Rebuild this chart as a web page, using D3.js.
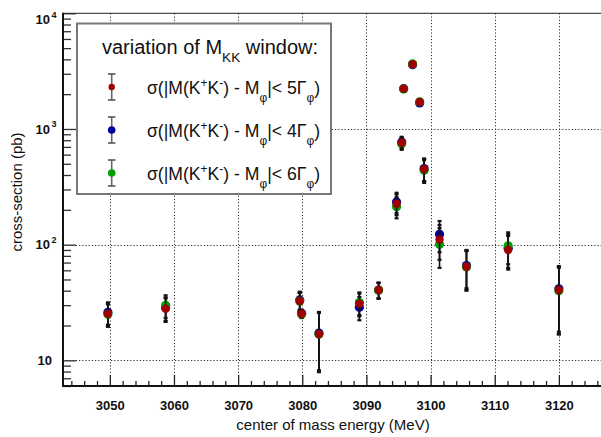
<!DOCTYPE html>
<html><head><meta charset="utf-8">
<script src="https://cdn.jsdelivr.net/npm/d3@7"></script>
<style>
html,body{margin:0;padding:0;background:#fff;}
svg{display:block;font-family:"Liberation Sans",Arial,Helvetica,sans-serif;}
</style></head><body>
<svg id="chart" width="601" height="437"></svg>
<script>
// Scan points (MeV) and cross-sections (pb) for three M(KK) window cuts
const energy = [3049.7, 3058.7, 3079.6, 3079.9, 3082.6, 3088.9, 3091.9, 3094.7, 3095.5, 3095.8, 3097.2, 3098.3, 3099.0, 3101.4, 3105.6, 3112.1, 3120.0];
const sigma5 = [25.3, 27.9, 32.6, 25.3, 16.9, 30.9, 40.5, 226, 761, 2229, 3623, 1711, 451, 111, 64.5, 89.9, 40.5];
const err5   = [5.6, 6.4, 5.8, 1.8, 8.9, 6.9, 6.3, 46, 85, 90, 130, 80, 100, 37, 24, 29, 23.5];
const sigma4 = [26.0, 28.5, 33.3, 25.5, 17.2, 28.7, 40.5, 234, 770, 2230, 3600, 1680, 455, 123, 66, 93, 41.5];
const err4   = [5.7, 6.5, 5.9, 1.8, 9.0, 6.5, 6.3, 47, 86, 90, 130, 80, 100, 37, 24, 30, 23.8];
const sigma6 = [25.0, 29.9, 32.5, 25.0, 16.8, 31.6, 40.5, 213, 745, 2220, 3650, 1720, 440, 101, 64, 97.7, 40];
const err6   = [5.5, 6.6, 5.8, 1.8, 8.9, 7.0, 6.3, 44, 84, 90, 130, 80, 98, 38, 24, 30, 23.3];

const xTicks = [3050, 3060, 3070, 3080, 3090, 3100, 3110, 3120];
const yTicks = [10, 100, 1000, 10000];
const yTickBase = ["10", "10", "10", "10"];
const yTickExp = ["", "2", "3", "4"];
const legendWindows = ["5", "4", "6"];
const legendColors = ["#a00000", "#0000a0", "#00a000"];

const svg = d3.select("#chart");
const L = 63, T = 13.3, B = 386, R = 623;

const x = d3.scaleLinear().domain([3042.7, 3130]).range([L, R]);
const y = d3.scaleLog().domain([6, 10000]).range([B, T]);

// grid
const grid = svg.append("g").attr("stroke", "#333").attr("stroke-width", 1).attr("stroke-dasharray", "1.2,2");
grid.selectAll(".gx").data(xTicks).join("line")
  .attr("x1", d => Math.round(x(d)) + 0.5).attr("x2", d => Math.round(x(d)) + 0.5)
  .attr("y1", T).attr("y2", B);
grid.selectAll(".gy").data(yTicks.slice(0, 3)).join("line")
  .attr("y1", d => Math.round(y(d)) + 0.5).attr("y2", d => Math.round(y(d)) + 0.5)
  .attr("x1", L).attr("x2", R);

// x axis: major and minor ticks pointing inward
const xMinor = d3.range(3044, 3130, 2).filter(v => v % 10 !== 0);
const xAxisMinor = svg.append("g").attr("transform", `translate(0,${B})`)
  .call(d3.axisBottom(x).tickValues(xMinor).tickSize(-5).tickFormat(""));
const xAxis = svg.append("g").attr("transform", `translate(0,${B})`)
  .call(d3.axisBottom(x).tickValues(xTicks).tickSize(-11).tickPadding(15).tickFormat(d3.format("d")));
[xAxisMinor, xAxis].forEach(g => {
  g.select(".domain").remove();
  g.selectAll(".tick line").attr("stroke", "#222").attr("stroke-width", 1.3);
});
xAxis.selectAll(".tick text").attr("font-size", 13).attr("font-weight", "bold").attr("fill", "#111")
  .attr("font-family", '"Liberation Sans",Arial,sans-serif');

// y axis: decades and 2..9 minor ticks
const yMinor = [];
[1, 10, 100, 1000].forEach(p => d3.range(2, 10).forEach(m => { if (m * p >= 6 && m * p < 10000) yMinor.push(m * p); }));
const yAxisMinor = svg.append("g").attr("transform", `translate(${L},0)`)
  .call(d3.axisLeft(y).tickValues(yMinor).tickSize(-8).tickFormat(""));
const yAxis = svg.append("g").attr("transform", `translate(${L},0)`)
  .call(d3.axisLeft(y).tickValues(yTicks).tickSize(-13).tickFormat(""));
[yAxisMinor, yAxis].forEach(g => {
  g.select(".domain").remove();
  g.selectAll(".tick line").attr("stroke", "#333").attr("stroke-width", 1.3);
});
yTicks.forEach((v, i) => {
  const cy = Math.max(y(v), 19.5);
  const t = svg.append("text").attr("y", cy + 4.6).attr("font-size", 13).attr("font-weight", "bold").attr("fill", "#111");
  if (yTickExp[i]) {
    t.attr("x", 50).attr("text-anchor", "end").text(yTickBase[i]);
    svg.append("text").attr("x", 51.5).attr("y", cy - 1.5).attr("font-size", 9).attr("font-weight", "bold")
      .attr("fill", "#111").text(yTickExp[i]);
  } else {
    t.attr("x", 52).attr("text-anchor", "end").text(yTickBase[i]);
  }
});

// frame
svg.append("line").attr("x1", L).attr("x2", 601).attr("y1", T).attr("y2", T).attr("stroke", "#222").attr("stroke-width", 1);
svg.append("line").attr("x1", L).attr("x2", L).attr("y1", T - 0.5).attr("y2", B + 1).attr("stroke", "#111").attr("stroke-width", 2);
svg.append("line").attr("x1", L - 1).attr("x2", 601).attr("y1", B).attr("y2", B).attr("stroke", "#111").attr("stroke-width", 2);

// axis titles
svg.append("text").attr("x", 333).attr("y", 430).attr("text-anchor", "middle").attr("font-size", 15).attr("fill", "#111")
  .text("center of mass energy (MeV)");
svg.append("text").attr("transform", "translate(22,192) rotate(-90)").attr("text-anchor", "middle").attr("font-size", 15)
  .attr("fill", "#111").text("cross-section (pb)");

// data series: blue (4Γ), green (6Γ), red (5Γ) drawn last on top
const series = [
  { v: sigma4, e: err4, color: legendColors[1], r: 4.6 },
  { v: sigma6, e: err6, color: legendColors[2], r: 4.6 },
  { v: sigma5, e: err5, color: legendColors[0], r: 4.2 }
];
series.forEach(s => {
  const g = svg.append("g");
  const pts = energy.map((E, i) => ({ E, v: s.v[i], e: s.e[i] }));
  const eb = g.selectAll(".eb").data(pts).join("g").attr("stroke", "#111").attr("stroke-width", 1.6);
  eb.append("line").attr("x1", d => x(d.E)).attr("x2", d => x(d.E))
    .attr("y1", d => y(d.v + d.e)).attr("y2", d => y(Math.max(d.v - d.e, 6.01)));
  eb.append("line").attr("x1", d => x(d.E) - 2).attr("x2", d => x(d.E) + 2)
    .attr("y1", d => y(d.v + d.e)).attr("y2", d => y(d.v + d.e)).attr("stroke-width", 2.2);
  eb.append("line").attr("x1", d => x(d.E) - 2).attr("x2", d => x(d.E) + 2)
    .attr("y1", d => y(d.v - d.e)).attr("y2", d => y(d.v - d.e)).attr("stroke-width", 2.2);
  g.selectAll("circle").data(pts).join("circle")
    .attr("cx", d => x(d.E)).attr("cy", d => y(d.v)).attr("r", s.r).attr("fill", s.color);
});

// legend
const lg = svg.append("g");
lg.append("rect").attr("x", 77).attr("y", 23.5).attr("width", 254).attr("height", 170.5)
  .attr("fill", "#fff").attr("stroke", "#777").attr("stroke-width", 2);

function rich(sel, parts, size) {
  let shift = 0;
  parts.forEach(p => {
    const target = p.s === "sup" ? -7 : p.s === "sub" ? 7.5 : 0;
    sel.append("tspan").attr("dy", target - shift).attr("font-size", p.s ? size * 0.68 : size).text(p.t);
    shift = target;
  });
}
rich(lg.append("text").attr("x", 102).attr("y", 54).attr("fill", "#111"),
  [{ t: "variation of M" }, { t: "KK", s: "sub" }, { t: " window:" }], 20);

legendWindows.forEach((w, i) => {
  const cy = 87 + i * 43;
  lg.append("line").attr("x1", 111.7).attr("x2", 111.7).attr("y1", cy - 13).attr("y2", cy + 13)
    .attr("stroke", "#666").attr("stroke-width", 1.6);
  [cy - 13, cy + 13].forEach(yy => lg.append("line").attr("x1", 108).attr("x2", 115.4).attr("y1", yy).attr("y2", yy)
    .attr("stroke", "#555").attr("stroke-width", 1.6));
  lg.append("circle").attr("cx", 111.7).attr("cy", cy).attr("r", i === 0 ? 3.2 : 3.8).attr("fill", legendColors[i]);
  rich(lg.append("text").attr("x", 147).attr("y", cy + 7).attr("fill", "#111"),
    [{ t: "σ(|M(K" }, { t: "+", s: "sup" }, { t: "K" }, { t: "-", s: "sup" }, { t: ") - M" }, { t: "φ", s: "sub" },
     { t: "|< " + w + "Γ" }, { t: "φ", s: "sub" }, { t: ")" }], 17.6);
});
</script>
</body></html>
